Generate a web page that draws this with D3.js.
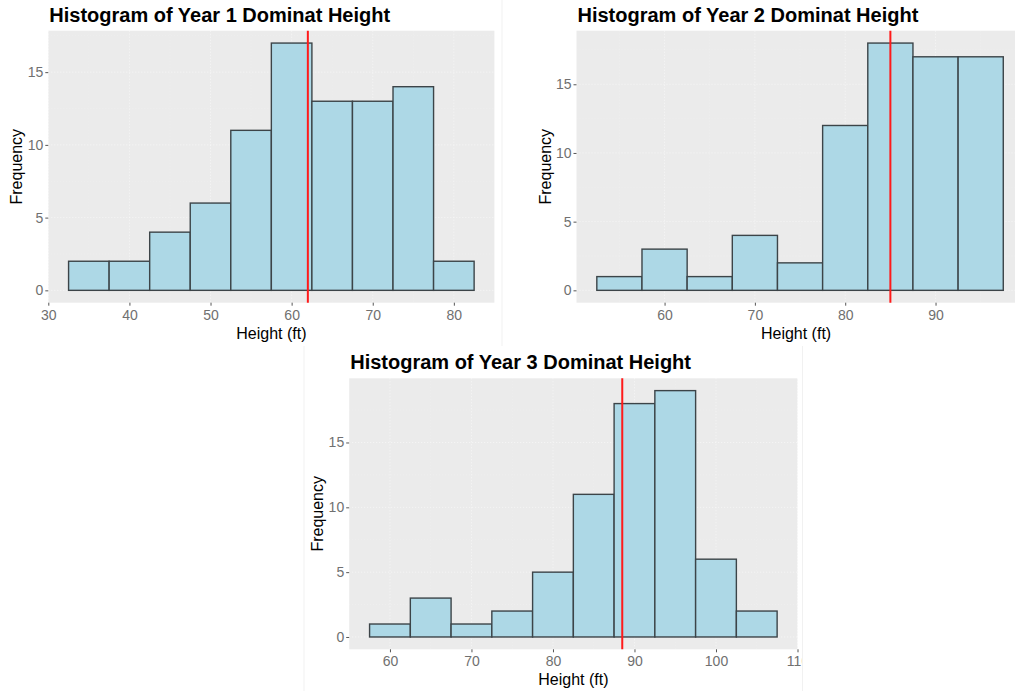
<!DOCTYPE html>
<html>
<head>
<meta charset="utf-8">
<script src="https://cdn.jsdelivr.net/npm/d3@7"></script>
<style>
  html, body { margin: 0; padding: 0; background: #ffffff; }
  svg { display: block; font-family: "Liberation Sans", Arial, sans-serif; }
</style>
</head>
<body>
<svg id="chart" width="1015" height="691"></svg>
<script>
// ---------- data ----------
const binWidth = 5;

const year1Titles = "Histogram of Year 1 Dominat Height";
const year1Centers = [35, 40, 45, 50, 55, 60, 65, 70, 75, 80];
const year1Counts  = [2, 2, 4, 6, 11, 17, 13, 13, 14, 2];
const year1Mean = 62.0;
const year1XTicks = [30, 40, 50, 60, 70, 80];
const year1YTicks = [0, 5, 10, 15];

const year2Titles = "Histogram of Year 2 Dominat Height";
const year2Centers = [55, 60, 65, 70, 75, 80, 85, 90, 95];
const year2Counts  = [1, 3, 1, 4, 2, 12, 18, 17, 17];
const year2Mean = 85.0;
const year2XTicks = [60, 70, 80, 90];
const year2YTicks = [0, 5, 10, 15];

const year3Titles = "Histogram of Year 3 Dominat Height";
const year3Centers = [60, 65, 70, 75, 80, 85, 90, 95, 100, 105];
const year3Counts  = [1, 3, 1, 2, 5, 11, 18, 19, 6, 2];
const year3Mean = 88.5;
const year3XTicks = [60, 70, 80, 90, 100, 110];
const year3YTicks = [0, 5, 10, 15];

const xTitle = "Height (ft)";
const yTitle = "Frequency";

// ---------- layout ----------
const panels = [
  { title: year1Titles, centers: year1Centers, counts: year1Counts, mean: year1Mean,
    xTicks: year1XTicks, yTicks: year1YTicks,
    box: { left: 48.3, right: 494.4, top: 30.7, bottom: 302.7 }, clip: { x0: 0, x1: 502, y0: 0, y1: 345 } },
  { title: year2Titles, centers: year2Centers, counts: year2Counts, mean: year2Mean,
    xTicks: year2XTicks, yTicks: year2YTicks,
    box: { left: 576.5, right: 1023.6, top: 30.7, bottom: 302.7 }, clip: { x0: 503, x1: 1015, y0: 0, y1: 345 } },
  { title: year3Titles, centers: year3Centers, counts: year3Counts, mean: year3Mean,
    xTicks: year3XTicks, yTicks: year3YTicks,
    box: { left: 349.2, right: 797.5, top: 378.3, bottom: 649.3 }, clip: { x0: 304, x1: 802, y0: 345, y1: 691 } }
];

const svg = d3.select("#chart");
const defs = svg.append("defs");

// faint screenshot seams
const seams = [
  [502, 0, 502, 346], [304, 346, 304, 691], [802.5, 346, 802.5, 691]
];
svg.selectAll("line.seam").data(seams).enter().append("line")
  .attr("x1", d => d[0]).attr("y1", d => d[1]).attr("x2", d => d[2]).attr("y2", d => d[3])
  .attr("stroke", "#f1f1f1").attr("stroke-width", 1);

panels.forEach((p, i) => {
  const b = p.box;
  defs.append("clipPath").attr("id", "clip" + i)
    .append("rect").attr("x", p.clip.x0).attr("y", p.clip.y0)
    .attr("width", p.clip.x1 - p.clip.x0).attr("height", p.clip.y1 - p.clip.y0);

  const g = svg.append("g").attr("clip-path", `url(#clip${i})`);

  const lo = d3.min(p.centers) - binWidth / 2;
  const hi = d3.max(p.centers) + binWidth / 2;
  const xpad = (hi - lo) * 0.05;
  const ymax = d3.max(p.counts);
  const ypad = ymax * 0.05;

  const x = d3.scaleLinear().domain([lo - xpad, hi + xpad]).range([b.left, b.right]);
  const y = d3.scaleLinear().domain([-ypad, ymax + ypad]).range([b.bottom, b.top]);

  // panel background
  g.append("rect").attr("x", b.left).attr("y", b.top)
    .attr("width", b.right - b.left).attr("height", b.bottom - b.top)
    .attr("fill", "#ebebeb");

  // grid (minor + major)
  const minorY = p.yTicks.map(v => v + 2.5).filter(v => v < ymax + ypad);
  const minorX = p.xTicks.map(v => v + 5).concat([p.xTicks[0] - 5])
      .filter(v => v > lo - xpad && v < hi + xpad);
  g.selectAll(".gminy").data(minorY).enter().append("line")
    .attr("x1", b.left).attr("x2", b.right).attr("y1", d => y(d)).attr("y2", d => y(d))
    .attr("stroke", "#ffffff").attr("stroke-opacity", 0.35).attr("stroke-width", 0.6)
    .attr("stroke-dasharray", "1,2");
  g.selectAll(".gminx").data(minorX).enter().append("line")
    .attr("y1", b.top).attr("y2", b.bottom).attr("x1", d => x(d)).attr("x2", d => x(d))
    .attr("stroke", "#ffffff").attr("stroke-opacity", 0.35).attr("stroke-width", 0.6)
    .attr("stroke-dasharray", "1,2");
  g.selectAll(".gmajy").data(p.yTicks).enter().append("line")
    .attr("x1", b.left).attr("x2", b.right).attr("y1", d => y(d)).attr("y2", d => y(d))
    .attr("stroke", "#ffffff").attr("stroke-opacity", 0.6).attr("stroke-width", 1)
    .attr("stroke-dasharray", "1,2");
  g.selectAll(".gmajx").data(p.xTicks).enter().append("line")
    .attr("y1", b.top).attr("y2", b.bottom).attr("x1", d => x(d)).attr("x2", d => x(d))
    .attr("stroke", "#ffffff").attr("stroke-opacity", 0.6).attr("stroke-width", 1)
    .attr("stroke-dasharray", "1,2");

  // bars
  const bins = p.centers.map((c, k) => ({ c, n: p.counts[k] }));
  g.selectAll(".bar").data(bins).enter().append("rect")
    .attr("x", d => x(d.c - binWidth / 2))
    .attr("width", d => x(d.c + binWidth / 2) - x(d.c - binWidth / 2))
    .attr("y", d => y(d.n))
    .attr("height", d => y(0) - y(d.n))
    .attr("fill", "#add8e6")
    .attr("stroke", "#3c4448")
    .attr("stroke-width", 1.4);

  // mean line
  g.append("line")
    .attr("x1", x(p.mean)).attr("x2", x(p.mean))
    .attr("y1", b.top).attr("y2", b.bottom)
    .attr("stroke", "#ff1a1a").attr("stroke-width", 2);

  // axes
  const xAxis = d3.axisBottom(x).tickValues(p.xTicks).tickSize(3).tickPadding(4).tickFormat(d3.format("d"));
  const ax = g.append("g").attr("transform", `translate(0,${b.bottom})`).call(xAxis);
  const yAxis = d3.axisLeft(y).tickValues(p.yTicks).tickSize(3).tickPadding(2).tickFormat(d3.format("d"));
  const ay = g.append("g").attr("transform", `translate(${b.left},0)`).call(yAxis);
  [ax, ay].forEach(a => {
    a.select(".domain").remove();
    a.selectAll(".tick line").attr("stroke", "#555555").attr("stroke-width", 1);
    a.selectAll(".tick text").attr("fill", "#707070")
      .style("font-size", "14px").style("font-family", "'Liberation Sans', Arial, sans-serif");
  });

  // titles
  g.append("text")
    .attr("x", b.left + 1).attr("y", b.top - 9)
    .attr("font-size", "20px").attr("font-weight", "bold").attr("fill", "#000")
    .text(p.title);

  g.append("text")
    .attr("x", (b.left + Math.min(b.right, p.clip.x1 + 9)) / 2 + (i === 1 ? -4 : 0))
    .attr("y", b.bottom + 36)
    .attr("text-anchor", "middle")
    .attr("font-size", "16px").attr("fill", "#000")
    .text(xTitle);

  g.append("text")
    .attr("transform", `translate(${b.left - 26},${(b.top + b.bottom) / 2}) rotate(-90)`)
    .attr("text-anchor", "middle")
    .attr("font-size", "16px").attr("fill", "#000")
    .text(yTitle);
});
</script>
</body>
</html>
